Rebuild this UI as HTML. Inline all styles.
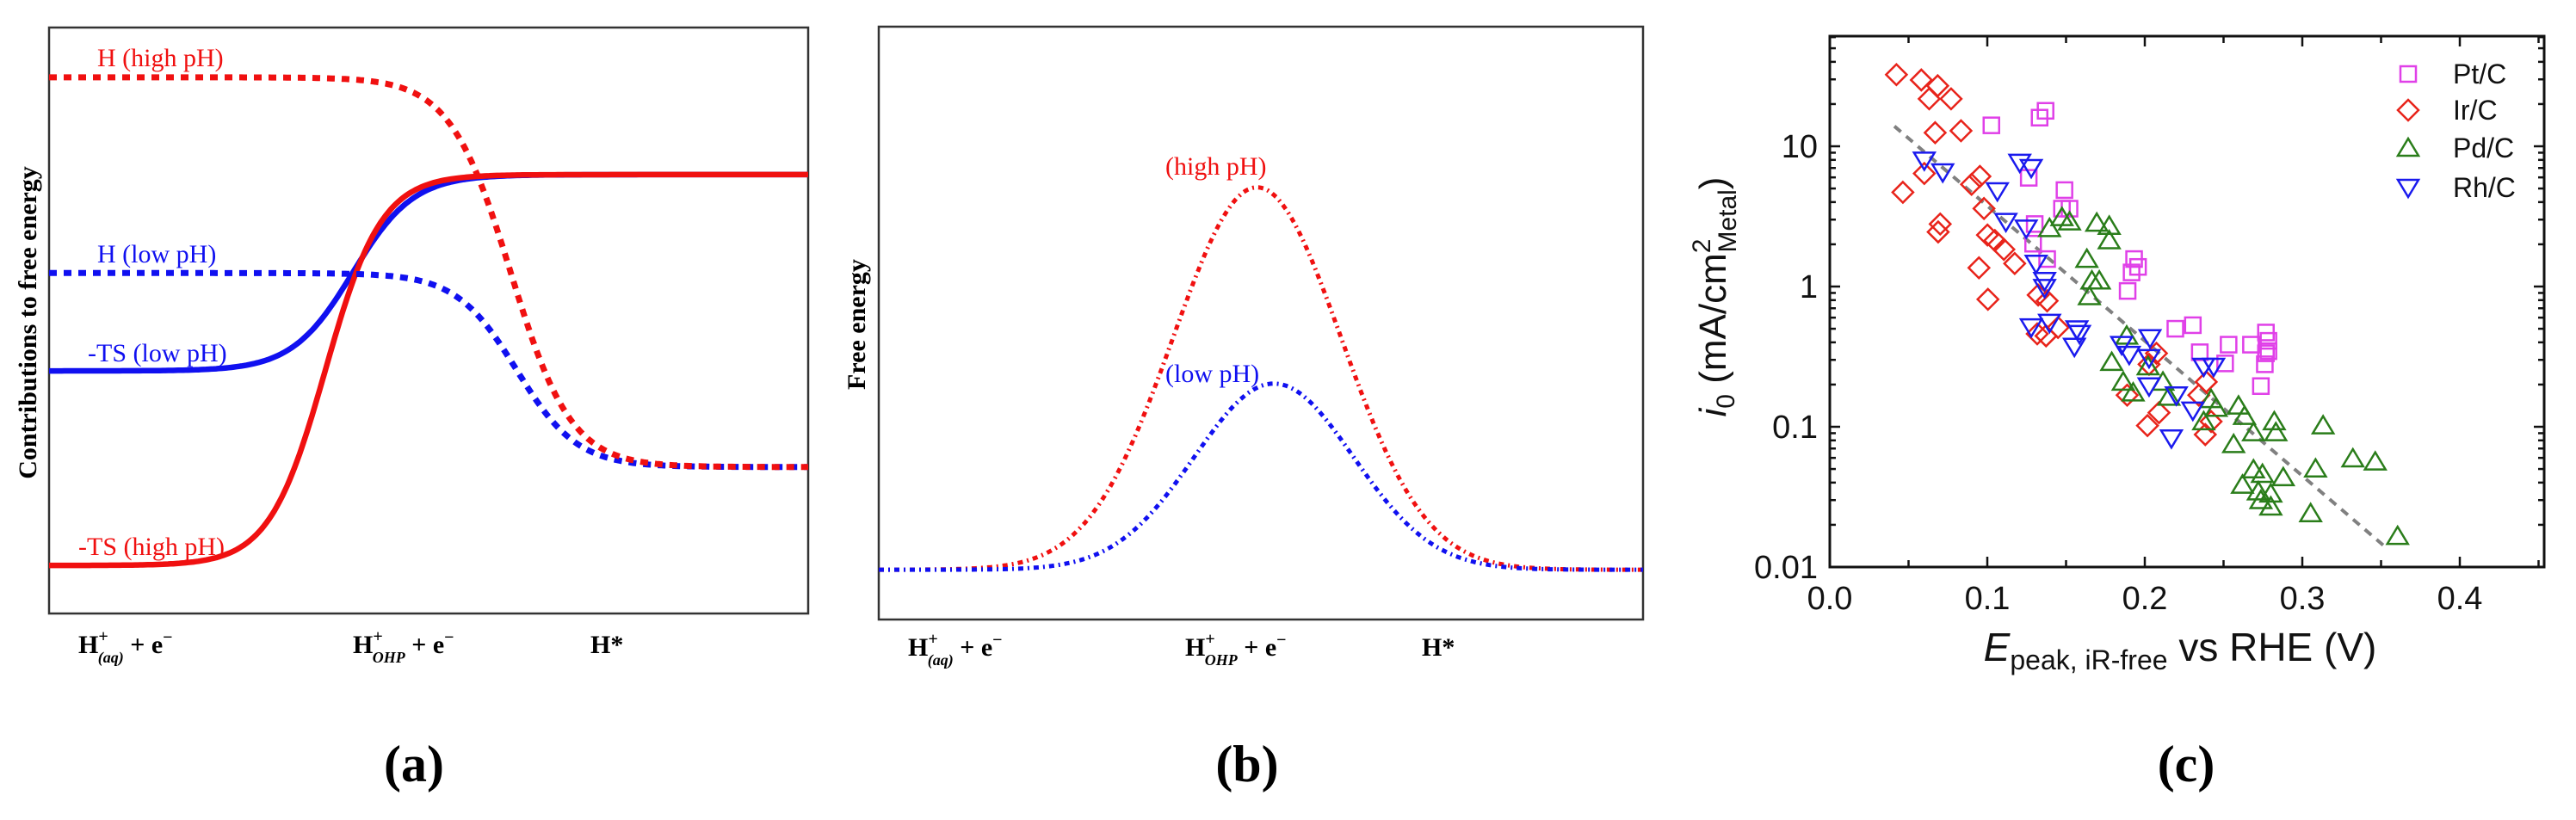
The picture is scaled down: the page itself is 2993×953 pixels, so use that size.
<!DOCTYPE html>
<html><head><meta charset="utf-8"><style>
html,body{margin:0;padding:0;background:#fff;}
svg{display:block;}
</style></head><body>
<svg id="fig" width="2993" height="953" viewBox="0 0 2993 953" xmlns="http://www.w3.org/2000/svg">
<rect width="2993" height="953" fill="#fff"/>
<g id="pa"></g>
<g id="pb"></g>
<g id="pc"></g>
</svg>
<script>
// ---- Panel (a): conceptual sigmoid curves (normalized units) ----
const aNames = ["H-high-pH","H-low-pH","TS-low-pH","TS-high-pH"];
const aStart = [0.915, 0.581, 0.414, 0.082];
const aEnd   = [0.25, 0.25, 0.749, 0.749];
const aMid   = [0.608, 0.616, 0.40, 0.364];
const aWidth = [0.040, 0.040, 0.040, 0.037];
// ---- Panel (b): gaussian barriers ----
const bNames = ["high-pH","low-pH"];
const bBase = [0.084, 0.084];
const bPeak = [0.729, 0.398];
const bCenter = [0.495, 0.517];
const bSigma = [0.110, 0.104];
// ---- Panel (c): scatter data (E in V, i0 in mA/cm2) ----
const ptX=[0.1026,0.1332,0.1370,0.1263,0.1301,0.1291,0.1380,0.1490,0.1474,0.1522,0.1932,0.1916,0.1957,0.1891,0.2194,0.2305,0.2349,0.2532,0.2510,0.2674,0.2769,0.2785,0.2785,0.2769,0.2762,0.2737];
const ptY=[14.1,16.0,17.9,5.96,2.79,2.02,1.57,4.87,3.59,3.59,1.57,1.26,1.38,0.93,0.50,0.53,0.34,0.385,0.283,0.385,0.47,0.41,0.346,0.334,0.279,0.195];
const irX=[0.0423,0.0581,0.0685,0.0631,0.0770,0.0669,0.0833,0.0600,0.0464,0.0953,0.0900,0.0979,0.0701,0.0688,0.1001,0.1048,0.1105,0.1174,0.0947,0.1004,0.1323,0.1380,0.1317,0.1373,0.1449,0.2017,0.2090,0.1888,0.2074,0.2390,0.2343,0.2384,0.2421,0.2027];
const irY=[32.4,29.7,27.0,21.8,21.8,12.5,12.9,6.4,4.7,6.1,5.35,3.60,2.79,2.45,2.33,2.13,1.84,1.46,1.36,0.81,0.87,0.79,0.46,0.445,0.51,0.102,0.126,0.168,0.334,0.209,0.168,0.088,0.109,0.279];
const pdX=[0.1395,0.1474,0.1522,0.1695,0.1774,0.1774,0.1632,0.1664,0.1711,0.1648,0.1885,0.1790,0.1863,0.1926,0.2021,0.2115,0.2153,0.2374,0.2421,0.2453,0.2595,0.2633,0.2690,0.2822,0.2832,0.3132,0.2564,0.2690,0.2747,0.2620,0.2879,0.2721,0.2800,0.2737,0.2800,0.3084,0.3053,0.3321,0.3463,0.3605];
const pdY=[2.60,3.11,2.90,2.84,2.70,2.13,1.57,1.10,1.10,0.85,0.445,0.289,0.209,0.175,0.269,0.209,0.163,0.109,0.157,0.136,0.141,0.119,0.091,0.109,0.091,0.102,0.075,0.0495,0.046,0.0385,0.0435,0.0345,0.0333,0.0299,0.0269,0.0502,0.0241,0.0593,0.0563,0.0166];
const rhX=[0.0600,0.0717,0.1064,0.1206,0.1279,0.1118,0.1247,0.1310,0.1364,0.1364,0.1279,0.1395,0.1569,0.1585,0.1553,0.1853,0.1901,0.2033,0.2027,0.2027,0.2200,0.2305,0.2169,0.2374,0.2437];
const rhY=[7.94,6.54,4.80,7.66,7.03,2.90,2.60,1.46,1.10,0.98,0.514,0.553,0.497,0.461,0.373,0.385,0.327,0.43,0.31,0.195,0.168,0.131,0.083,0.269,0.269];
const fitX=[0.041,0.354];
const fitY=[13.9,0.0135];
const xTicks=[0.0,0.1,0.2,0.3,0.4];
const xTickLabels=["0.0","0.1","0.2","0.3","0.4"];
const yTicks=[10,1,0.1,0.01];
const yTickLabels=["10","1","0.1","0.01"];
const legendLabels=["Pt/C","Ir/C","Pd/C","Rh/C"];

const NS="http://www.w3.org/2000/svg";
function mk(tag,attrs,parent){const e=document.createElementNS(NS,tag);for(const k in attrs)e.setAttribute(k,attrs[k]);parent.appendChild(e);return e;}
const SERIF='"Liberation Serif", serif', SANS='"Liberation Sans", sans-serif';

// ===== Panel A =====
const pa=document.getElementById('pa');
const A={l:57,r:939,t:32,b:713};
const xA=t=>A.l+t*(A.r-A.l), yA=v=>A.b-v*(A.b-A.t);
let fr=mk('rect',{x:A.l,y:A.t,width:A.r-A.l,height:A.b-A.t,fill:'none',stroke:'#333',"stroke-width":2.5},pa);


const aColors=['#f01010','#1010f0','#1010f0','#f01010'];
const aDash=['9 8','9 8',null,null];
[2,3,1,0].forEach(i=>{
  let d='';
  for(let k=0;k<=300;k++){const t=k/300;const v=aStart[i]+(aEnd[i]-aStart[i])/(1+Math.exp(-(t-aMid[i])/aWidth[i]));d+=(k?'L':'M')+xA(t).toFixed(1)+' '+yA(v).toFixed(1);}
  const p=mk('path',{d:d,fill:'none',stroke:aColors[i],"stroke-width":aDash[i]?7:6.5},pa);
  if(aDash[i])p.setAttribute('stroke-dasharray',aDash[i]);
  
  
});
function lbl(parent,x,y,txt,color,size,name,extra){const t=mk('text',Object.assign({x:x,y:y,fill:color,"font-family":SERIF,"font-size":size},extra||{}),parent);t.textContent=txt;return t;}
lbl(pa,113,77,'H (high pH)','#f01010',30,'label-h-high-ph');
lbl(pa,113,305,'H (low pH)','#1010f0',30,'label-h-low-ph');
lbl(pa,102,420,'-TS (low pH)','#1010f0',30,'label-ts-low-ph');
lbl(pa,91,645,'-TS (high pH)','#f01010',30,'label-ts-high-ph');
lbl(pa,0,0,'Contributions to free energy','#000',30,'y-axis-title-a',{"font-weight":"bold","text-anchor":"middle",transform:"translate(42,375) rotate(-90)"});
function stateLabel(parent,x,y,sub,name){
  const t=mk('text',{x:x,y:y,"font-family":SERIF,"font-size":30,"font-weight":"bold",fill:'#000'},parent);
  
  if(sub===null){t.textContent='H*';return;}
  let s=mk('tspan',{},t);s.textContent='H';
  s=mk('tspan',{dy:-13,"font-size":20},t);s.textContent='+';
  s=mk('tspan',{dx:-12,dy:24,"font-size":18,"font-style":"italic"},t);s.textContent=sub;
  s=mk('tspan',{dy:-11},t);s.textContent=' + e';
  s=mk('tspan',{dy:-12,"font-size":20},t);s.textContent='−';
}
stateLabel(pa,91,759,'(aq)','state-label-aq');
stateLabel(pa,410,759,'OHP','state-label-ohp');
stateLabel(pa,686,759,null,'state-label-hstar');
lbl(pa,481,908,'(a)','#000',60,'panel-label-a',{"font-weight":"bold","text-anchor":"middle"});

// ===== Panel B =====
const pb=document.getElementById('pb');
const B={l:1021,r:1909,t:31,b:720};
const xB=t=>B.l+t*(B.r-B.l), yB=v=>B.b-v*(B.b-B.t);
fr=mk('rect',{x:B.l,y:B.t,width:B.r-B.l,height:B.b-B.t,fill:'none',stroke:'#333',"stroke-width":2.5},pb);


const bColors=['#f01010','#1010f0'];
[0,1].forEach(i=>{
  let d='';
  for(let k=0;k<=300;k++){const t=k/300;const v=bBase[i]+(bPeak[i]-bBase[i])*Math.exp(-Math.pow(t-bCenter[i],2)/(2*bSigma[i]*bSigma[i]));d+=(k?'L':'M')+xB(t).toFixed(1)+' '+yB(v).toFixed(1);}
  const p=mk('path',{d:d,fill:'none',stroke:bColors[i],"stroke-width":5,"stroke-dasharray":"6 5 2 5"},pb);
  
  
});
lbl(pb,1354,203,'(high pH)','#f01010',30,'label-b-high-ph');
lbl(pb,1354,444,'(low pH)','#1010f0',30,'label-b-low-ph');
lbl(pb,0,0,'Free energy','#000',30,'y-axis-title-b',{"font-weight":"bold","text-anchor":"middle",transform:"translate(1005,377) rotate(-90)"});
stateLabel(pb,1055,762,'(aq)','state-label-b-aq');
stateLabel(pb,1377,762,'OHP','state-label-b-ohp');
stateLabel(pb,1652,762,null,'state-label-b-hstar');
lbl(pb,1449,908,'(b)','#000',60,'panel-label-b',{"font-weight":"bold","text-anchor":"middle"});

// ===== Panel C =====
const pc=document.getElementById('pc');
const C={l:2126,r:2956,t:42,b:659};
const X0=0, X1=(C.r-C.l)/1830;
const LY0=-2, LY1=-2+(C.b-C.t)/163;
const xC=v=>C.l+(v-X0)/(X1-X0)*(C.r-C.l);
const yC=v=>C.b-(Math.log10(v)-LY0)/(LY1-LY0)*(C.b-C.t);
const tg=mk('g',{stroke:'#111',"stroke-width":2.5},pc);

for(let v=0;v<=0.45;v+=0.05){const x=xC(v);const major=Math.abs(v*10-Math.round(v*10))<1e-6;const L=major?12:8;
  mk('line',{x1:x,y1:C.b,x2:x,y2:C.b-L},tg);mk('line',{x1:x,y1:C.t,x2:x,y2:C.t+L},tg);}
for(let e=-2;e<=1;e++){for(let m=1;m<=9;m++){const v=m*Math.pow(10,e);if(Math.log10(v)>LY1)break;const y=yC(v);const L=m===1?12:7;
  mk('line',{x1:C.l,y1:y,x2:C.l+L,y2:y},tg);mk('line',{x1:C.r,y1:y,x2:C.r-L,y2:y},tg);}}
fr=mk('rect',{x:C.l,y:C.t,width:C.r-C.l,height:C.b-C.t,fill:'none',stroke:'#111',"stroke-width":3},pc);


xTicks.forEach((v,i)=>{const t=mk('text',{x:xC(v),y:708,"text-anchor":"middle","font-family":SANS,"font-size":38,fill:'#111'},pc);t.textContent=xTickLabels[i];
  });
yTicks.forEach((v,i)=>{const t=mk('text',{x:2112,y:yC(v)+13,"text-anchor":"end","font-family":SANS,"font-size":38,fill:'#111'},pc);t.textContent=yTickLabels[i];
  });
const fl=mk('line',{x1:xC(fitX[0]),y1:yC(fitY[0]),x2:xC(fitX[1]),y2:yC(fitY[1]),stroke:'#808080',"stroke-width":4,"stroke-dasharray":"10 8"},pc);


function marker(g,shape,x,y,color){
  let e;
  if(shape==='sq'){e=mk('rect',{x:x-9,y:y-9,width:18,height:18,fill:'none',stroke:color,"stroke-width":2.5},g);}
  else if(shape==='di'){e=mk('polygon',{points:`${x},${y-12} ${x+12},${y} ${x},${y+12} ${x-12},${y}`,fill:'none',stroke:color,"stroke-width":2.5},g);}
  else if(shape==='up'){e=mk('polygon',{points:`${x},${y-11} ${x+12},${y+9} ${x-12},${y+9}`,fill:'none',stroke:color,"stroke-width":2.5},g);}
  else {e=mk('polygon',{points:`${x-12},${y-9} ${x+12},${y-9} ${x},${y+11}`,fill:'none',stroke:color,"stroke-width":2.5},g);}
  return e;
}
const series=[[ptX,ptY,'sq','#e040e8','pt'],[irX,irY,'di','#e8231a','ir'],[pdX,pdY,'up','#2a7d1a','pd'],[rhX,rhY,'dn','#1a1aee','rh']];
series.forEach(s=>{
  const g=mk('g',{},pc);
  
  
  s[0].forEach((xv,i)=>{const m=marker(g,s[2],xC(xv),yC(s[1][i]),s[3]);
    
    });
});
const lg=mk('g',{},pc);


const legY=[86,128,172,218];
series.forEach((s,i)=>{
  const m=marker(lg,s[2],2798,legY[i],s[3]);
  
  
  const t=mk('text',{x:2850,y:legY[i]+11,"font-family":SANS,"font-size":32,fill:'#111'},lg);t.textContent=legendLabels[i];
  
  
});
const xt=mk('text',{x:2533,y:768,"text-anchor":"middle","font-family":SANS,"font-size":46,fill:'#111'},pc);

let s=mk('tspan',{"font-style":"italic"},xt);s.textContent='E';
s=mk('tspan',{"font-size":32,dy:10},xt);s.textContent='peak, iR-free';
s=mk('tspan',{dy:-10},xt);s.textContent=' vs RHE (V)';
const yt=mk('text',{x:0,y:0,"text-anchor":"middle","font-family":SANS,"font-size":44,fill:'#111',transform:'translate(2005,345) rotate(-90)'},pc);

s=mk('tspan',{"font-style":"italic"},yt);s.textContent='i';
s=mk('tspan',{"font-size":30,dy:10},yt);s.textContent='0';
s=mk('tspan',{dy:-10},yt);s.textContent=' (mA/cm';
s=mk('tspan',{"font-size":30,dy:-18},yt);s.textContent='2';
s=mk('tspan',{"font-size":30,dx:-16,dy:30},yt);s.textContent='Metal';
s=mk('tspan',{dy:-12},yt);s.textContent=')';
lbl(pc,2540,908,'(c)','#000',60,'panel-label-c',{"font-weight":"bold","text-anchor":"middle"});
</script>
</body></html>
